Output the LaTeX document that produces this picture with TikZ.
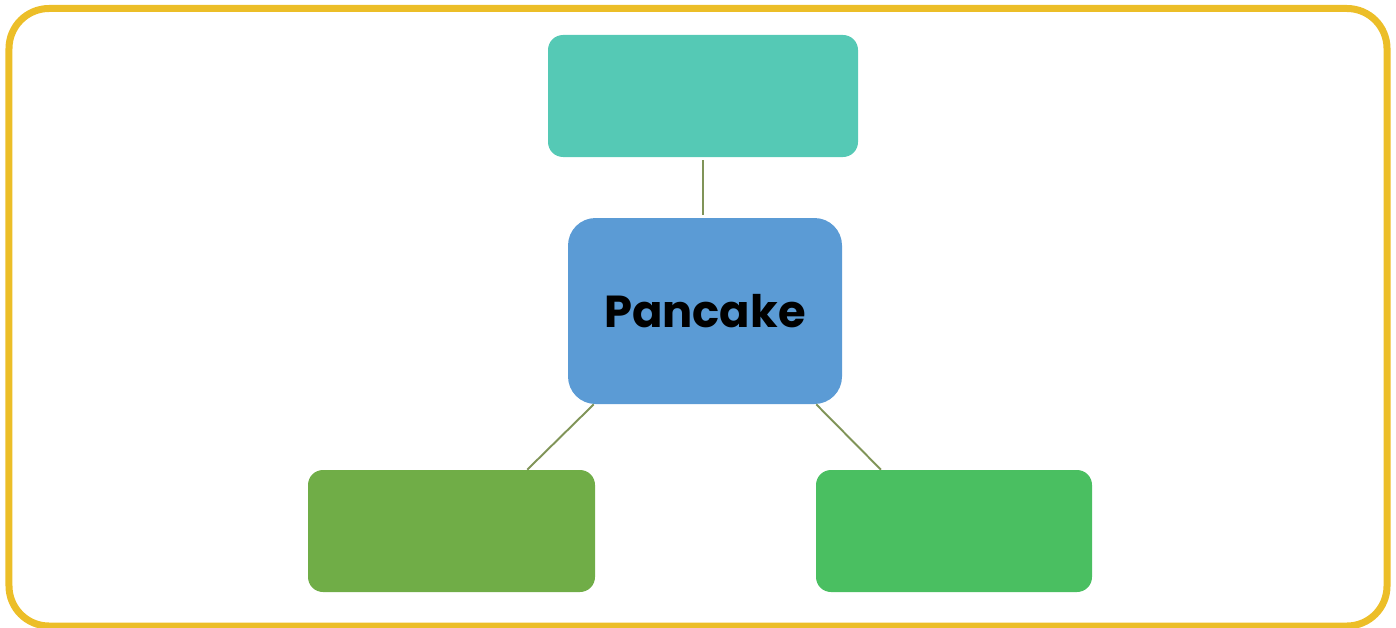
\documentclass[tikz,border=0pt]{standalone}
\usepackage{fontspec}
\setmainfont{Poppins}
\usepackage{tikz}
\definecolor{frameyellow}{RGB}{236,190,40}
\definecolor{tealbox}{RGB}{85,201,181}
\definecolor{bluebox}{RGB}{91,155,213}
\definecolor{leafgreen}{RGB}{112,173,71}
\definecolor{brightgreen}{RGB}{74,191,97}
\definecolor{linkline}{RGB}{128,148,88}
\tikzset{
    blob/.style={rectangle, inner sep=0pt, rounded corners=0.3cm, minimum height=2.44cm},
    link/.style={draw=linkline, line width=1.1pt}
}

\begin{document}
\begin{tikzpicture}

    % Fix the page size
    \useasboundingbox (0,0) rectangle (27.92,-12.56);

    % Draw the yellow frame
    \draw[frameyellow, line width=0.14cm, rounded corners=0.8cm] (0.18,-0.17) rectangle (27.74,-12.52);

    % Main topic
    \node[blob, fill=bluebox, minimum width=5.48cm, minimum height=3.72cm, rounded corners=0.55cm,
        font=\fontsize{25.5}{28}\selectfont\bfseries] (pan) at (14.1,-6.22) {Pancake};

    % Empty boxes round it
    \node[blob, fill=tealbox, minimum width=6.2cm] (top) at (14.06,-1.92) {};
    \node[blob, fill=leafgreen, minimum width=5.74cm] (lft) at (9.03,-10.62) {};
    \node[blob, fill=brightgreen, minimum width=5.52cm] (rgt) at (19.08,-10.62) {};

    % Connect them
    \draw[link] ([yshift=-0.06cm]top.south) -- ([yshift=0.06cm]top.south |- pan.north);
    \draw[link] (pan.-140) -- (lft.39);
    \draw[link] (pan.-40) -- (rgt.140);

\end{tikzpicture}
\end{document}
